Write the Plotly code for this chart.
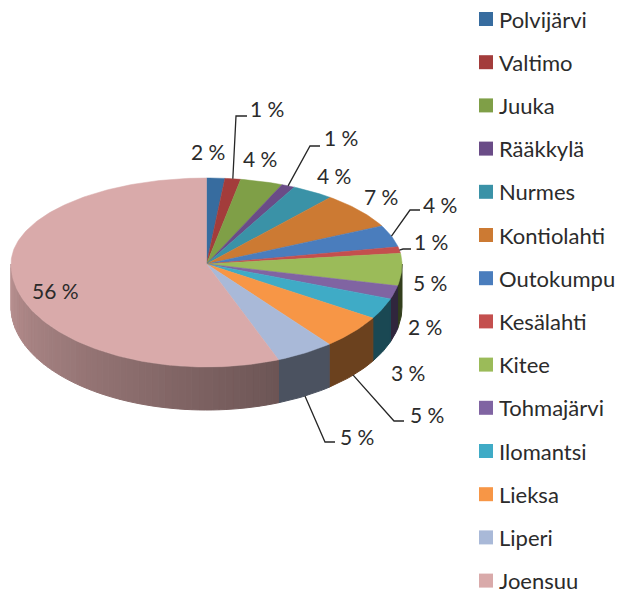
"""Kuntien osuudet: 3D-tyylinen piirakka, piirretty scatter-alueina."""
import numpy as np
import plotly.graph_objects as go

KUNNAT = ["Polvijärvi", "Valtimo", "Juuka", "Rääkkylä", "Nurmes", "Kontiolahti", "Outokumpu",
          "Kesälahti", "Kitee", "Tohmajärvi", "Ilomantsi", "Lieksa", "Liperi", "Joensuu"]
OSUUDET = [1.5, 1.3, 3.5, 1.1, 3.5, 6.8, 4.1, 1.2, 5.4, 2.1, 3.3, 5.4, 4.8, 56.0]
VARIT = ["#376c9f", "#a33c3b", "#7f9f47", "#6a4c87", "#3a92a7", "#cc7a33", "#4a7dbd",
         "#c44f4e", "#9bbb59", "#8064a2", "#3fabc6", "#f79646", "#a9b9d8", "#d9aaaa"]

# piirakan geometria kuvapisteinä
CX, CY = 206.5, 264
RX, RY_TAKA, RY_ETU = 195.5, 86, 103
SYVYYS = 43

# prosenttien paikat ja johtoviivojen taitekohdat (None = ei johtoviivaa)
TEKSTI_XY = [(208, 151), (267, 108), (260, 158), (341, 137), (334, 175), (381, 196), (440, 204),
             (431, 241), (430, 282), (425, 326), (408, 372), (427, 414), (357, 436), (55, 290)]
TAITE_XY = [None, (236, 116), None, (310, 146), None, None, (410, 210),
            (403, 249), None, None, None, (394, 421), (325, 442), None]
VIIVAN_PAA = [None, 247, None, 320, None, None, 420, 411, None, None, None, 404, 335, None]

# selitteen sijainti
SELITE_X, SELITE_Y, SELITE_VALI = 486, 19, 43.2


def piste(kulma, dy=0):
    """Kulma asteina kellotaulun tapaan, ylhäältä myötäpäivään."""
    t = np.radians(kulma)
    ry = np.where(np.cos(t) > 0, RY_TAKA, RY_ETU)
    return CX + RX * np.sin(t), CY - ry * np.cos(t) + dy


def tummenna(vari, k):
    r, g, b = (int(vari[i:i + 2], 16) for i in (1, 3, 5))
    return f"rgb({r * k:.0f},{g * k:.0f},{b * k:.0f})"


rajat = np.cumsum([0] + OSUUDET) * 3.6
fig = go.Figure()

# sivuseinä: liukuva varjostus vain isossa siivussa, muut tasaväriset
for nimi, vari, a, b in zip(KUNNAT, VARIT, rajat[:-1], rajat[1:]):
    a, b = max(a, 90), min(b, 270)
    if b <= a:
        continue
    osia = int((b - a) / 2) + 1 if nimi == "Joensuu" else 1
    askeleet = np.linspace(a, b, osia + 1)
    for k0, k1 in zip(askeleet[:-1], askeleet[1:]):
        kulmat = np.linspace(k0, k1, 12 if osia == 1 else 4)
        x1, y1 = piste(kulmat)
        x2, y2 = piste(kulmat[::-1], SYVYYS)
        varjo = np.interp((k0 + k1) / 2, [90, 115, 158, 158.5, 270], [0.3, 0.42, 0.45, 0.5, 0.85])
        c = tummenna(vari, varjo)
        fig.add_trace(go.Scatter(x=np.r_[x1, x2, x1[0]], y=np.r_[y1, y2, y1[0]], mode="lines", fill="toself",
                                 fillcolor=c, line=dict(color=c, width=1),
                                 showlegend=False, hoverinfo="skip"))

# yläpinnan siivut
for nimi, vari, a, b in zip(KUNNAT, VARIT, rajat[:-1], rajat[1:]):
    kulmat = np.linspace(a, b, max(3, int(b - a) + 2))
    x, y = piste(kulmat)
    fig.add_trace(go.Scatter(x=np.r_[CX, x, CX], y=np.r_[CY, y, CY], mode="lines", fill="toself",
                             fillcolor=vari, line=dict(color=vari, width=0.5),
                             showlegend=False, name=nimi, hoverinfo="name"))

# selite käsin: oma legend ei taivu näin tiukkaan väliin
for i, (nimi, vari) in enumerate(zip(KUNNAT, VARIT)):
    y = SELITE_Y + i * SELITE_VALI
    fig.add_trace(go.Scatter(x=[SELITE_X], y=[y], mode="markers", name=nimi, showlegend=False,
                             marker=dict(symbol="square", size=14, color=vari, line_width=0)))
    fig.add_annotation(x=SELITE_X + 11, y=y, text=nimi, showarrow=False, xanchor="left",
                       font=dict(family="Lato", size=22, color="#2b2b2b"))

# johtoviivat ja prosentit
keskikulmat = (rajat[:-1] + rajat[1:]) / 2
for i, arvo in enumerate(OSUUDET):
    if TAITE_XY[i]:
        dy = SYVYYS if 130 < keskikulmat[i] < 270 else 0
        x0, y0 = piste(keskikulmat[i], dy)
        xt, yt = TAITE_XY[i]
        fig.add_trace(go.Scatter(x=[float(x0), xt, VIIVAN_PAA[i]], y=[float(y0), yt, yt], mode="lines",
                                 line=dict(color="#262626", width=1.3),
                                 showlegend=False, hoverinfo="skip"))
    fig.add_annotation(x=TEKSTI_XY[i][0], y=TEKSTI_XY[i][1], text=f"{round(arvo)} %", showarrow=False,
                       font=dict(family="Lato", size=21, color="#2b2b2b"))

fig.update_layout(
    width=619, height=595, margin=dict(l=0, r=0, t=0, b=0),
    plot_bgcolor="white", paper_bgcolor="white", showlegend=False,
    xaxis=dict(range=[0, 619], visible=False),
    yaxis=dict(range=[595, 0], visible=False),
    font=dict(family="Lato", size=19, color="#2b2b2b"),
)

fig.write_html("out.html", config={"displayModeBar": False},
               post_script="document.body.style.margin='0'")
